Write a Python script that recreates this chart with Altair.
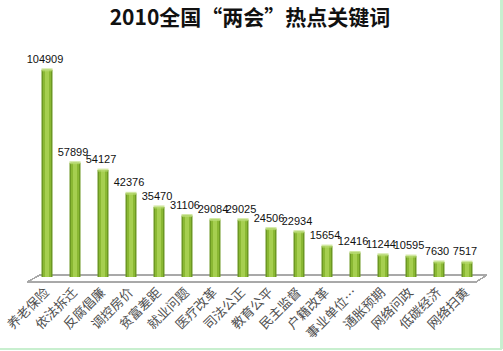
import altair as alt
import pandas as pd

TITLE = "2010全国“两会”热点关键词"
categories = ["养老保险", "依法拆迁", "反腐倡廉", "调控房价", "贫富差距", "就业问题",
              "医疗改革", "司法公正", "教育公平", "民主监督", "户籍改革", "事业单位…",
              "通胀预期", "网络问政", "低碳经济", "网络扫黄"]
values = [104909, 57899, 54127, 42376, 35470, 31106, 29084, 29025, 24506, 22934,
          15654, 12416, 11244, 10595, 7630, 7517]

df = pd.DataFrame({"cat": categories, "value": values})
title_df = pd.DataFrame({"t": [TITLE]})

CJK = "Noto Sans CJK SC"
W, H = 448, 237

x = alt.X("cat:N", sort=categories,
          scale=alt.Scale(paddingInner=0.5, paddingOuter=0.25),
          axis=alt.Axis(title=None, labelAngle=-45, labelAlign="right", labelBaseline="middle",
                        labelFont=CJK, labelFontSize=13, labelColor="#505050",
                        labelPadding=13, ticks=False, domain=False, grid=False))
y = alt.Y("value:Q", scale=alt.Scale(domain=[0, 120000]), axis=None)

base = alt.Chart(df)

# floor (decoration)
floor_col = "#a8a8a8"
floor_top = base.mark_rule(color=floor_col, strokeWidth=1).encode(
    x=alt.value(7), x2=alt.value(454), y=alt.value(235), y2=alt.value(235))
floor_bot = base.mark_rule(color=floor_col, strokeWidth=1).encode(
    x=alt.value(-6), x2=alt.value(443), y=alt.value(242), y2=alt.value(242))
floor_l = base.mark_rule(color=floor_col, strokeWidth=1).encode(
    x=alt.value(-6), x2=alt.value(7), y=alt.value(242), y2=alt.value(235))
floor_r = base.mark_rule(color=floor_col, strokeWidth=1).encode(
    x=alt.value(443), x2=alt.value(454), y=alt.value(242), y2=alt.value(235))

# frame lines (right / bottom)
frame_col = "#c8efcf"
frame_r = base.mark_rule(color=frame_col, strokeWidth=2).encode(
    x=alt.value(468.5), x2=alt.value(468.5), y=alt.value(-40), y2=alt.value(309))
frame_b = base.mark_rule(color=frame_col, strokeWidth=2).encode(
    x=alt.value(-33), x2=alt.value(469), y=alt.value(309), y2=alt.value(309))

# cylinder body as nested bars (dark edges -> light centre)
bar1 = base.mark_bar(size=11, color="#6c9823").encode(x=x, y=y)
bar2 = base.mark_bar(size=8, color="#8ab833").encode(x=x, y=y)
bar3 = base.mark_bar(size=4, color="#a6cf50").encode(x=x, y=y)
caps = base.mark_tick(color="#bcdd78", thickness=3, size=11).encode(x=x, y=y)
labels = base.mark_text(font="Liberation Sans", fontSize=11, color="#111111",
                        baseline="bottom", dy=-5, dx=-2).encode(
    x=x, y=y, text=alt.Text("value:Q"))

title = alt.Chart(title_df).mark_text(font=CJK, fontSize=21, fontWeight="bold",
                                      color="#111111", align="center", baseline="middle").encode(
    x=alt.value(217), y=alt.value(-21), text="t:N")

chart = alt.layer(floor_top, floor_bot, floor_l, floor_r, frame_r, frame_b,
                  bar1, bar2, bar3, caps, labels, title).properties(
    width=W, height=H,
    autosize=alt.AutoSizeParams(type="none"),
    padding={"left": 33, "top": 40, "right": 22, "bottom": 74},
).configure_view(strokeWidth=0)

chart.save("out.html", embed_options={"renderer": "svg", "actions": False})
